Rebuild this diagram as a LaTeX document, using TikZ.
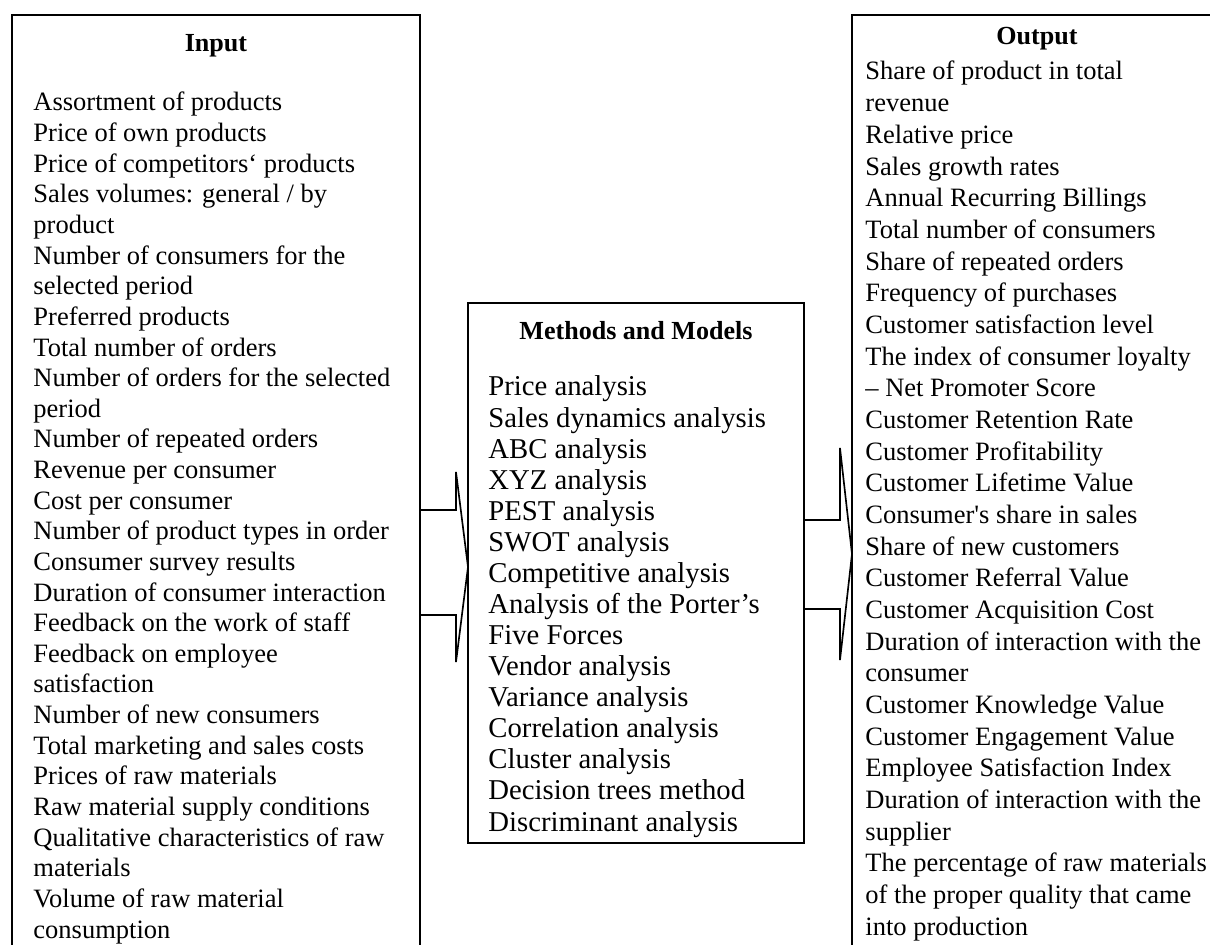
\documentclass[tikz,border=0pt]{standalone}
\usepackage{fontspec}
\setmainfont{Liberation Serif}
\usepackage{array}
\begin{document}
\begin{tikzpicture}[x=0.4528pt,y=-0.4528pt,
  boxline/.style={line width=0.95pt, line join=miter},
  arr/.style={line width=0.75pt, line join=miter},
  heading/.style={anchor=base, inner sep=0pt, font=\bfseries\fontsize{11.8}{14}\selectfont},
  listtext/.style={anchor=base west, inner sep=0pt, font=\fontsize{12}{#1}\selectfont},
  midtext/.style={anchor=base west, inner sep=0pt, font=\fontsize{13}{#1}\selectfont}]
\useasboundingbox (0,0) rectangle (1210,945);

% boxes
\coordinate (inTL) at (12,15);
\coordinate (inTR) at (420,15);
\coordinate (outTL) at (852,15);
\draw[boxline] (12,945) -- (inTL) -- (inTR) -- (420,945);
\draw[boxline] (468,303) rectangle (804,843);
\draw[boxline] (852,945) -- (outTL) -- (1212,15);

% headings
\node[heading] (inhead) at (216,52) {Input};
\node[heading] (mhead) at (636,340) {Methods and Models};
\node[heading] (outhead) at (1037,45) {Output};

% lists
\node[listtext=13.87pt] (inlist) at (33,111) {\begin{tabular}[t]{@{}l@{}}
Assortment of products\\
Price of own products\\
Price of competitors‘ products\\
Sales volumes: general / by\\
product\\
Number of consumers for the\\
selected period\\
Preferred products\\
Total number of orders\\
Number of orders for the selected\\
period\\
Number of repeated orders\\
Revenue per consumer\\
Cost per consumer\\
Number of product types in order\\
Consumer survey results\\
Duration of consumer interaction\\
Feedback on the work of staff\\
Feedback on employee\\
satisfaction\\
Number of new consumers\\
Total marketing and sales costs\\
Prices of raw materials\\
Raw material supply conditions\\
Qualitative characteristics of raw\\
materials\\
Volume of raw material\\
consumption
\end{tabular}};

\node[midtext=14.07pt] (mlist) at (488,396) {\begin{tabular}[t]{@{}l@{}}
Price analysis\\
Sales dynamics analysis\\
ABC analysis\\
XYZ analysis\\
PEST analysis\\
SWOT analysis\\
Competitive analysis\\
Analysis of the Porter’s\\
Five Forces\\
Vendor analysis\\
Variance analysis\\
Correlation analysis\\
Cluster analysis\\
Decision trees method\\
Discriminant analysis
\end{tabular}};

\node[listtext=14.34pt] (outlist) at (865,80) {\begin{tabular}[t]{@{}l@{}}
Share of product in total\\
revenue\\
Relative price\\
Sales growth rates\\
Annual Recurring Billings\\
Total number of consumers\\
Share of repeated orders\\
Frequency of purchases\\
Customer satisfaction level\\
The index of consumer loyalty\\
– Net Promoter Score\\
Customer Retention Rate\\
Customer Profitability\\
Customer Lifetime Value\\
Consumer\textquotesingle s share in sales\\
Share of new customers\\
Customer Referral Value\\
Customer Acquisition Cost\\
Duration of interaction with the\\
consumer\\
Customer Knowledge Value\\
Customer Engagement Value\\
Employee Satisfaction Index\\
Duration of interaction with the\\
supplier\\
The percentage of raw materials\\
of the proper quality that came\\
into production
\end{tabular}};

% block arrows
\coordinate (tip1) at (468,567);
\coordinate (tip2) at (852,554);
\draw[arr] (420,510) -- (456,510) -- (456,472) -- (tip1) -- (456,662) -- (456,615) -- (420,615);
\draw[arr] (804,520) -- (840,520) -- (840,448) -- (tip2) -- (840,660) -- (840,609) -- (804,609);
\end{tikzpicture}
\end{document}
